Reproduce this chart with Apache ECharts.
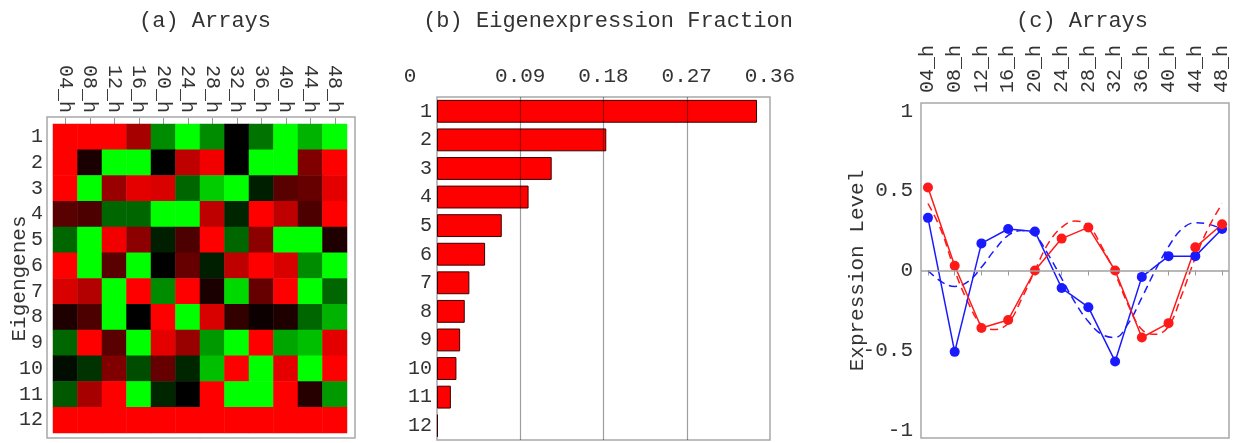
<!DOCTYPE html>
<html>
<head>
<meta charset="utf-8">
<script src="https://cdn.jsdelivr.net/npm/echarts@6/dist/echarts.min.js"></script>
<style>
  html, body { margin: 0; padding: 0; background: #ffffff; }
  #chart { width: 1238px; height: 443px; }
</style>
</head>
<body>
<div id="chart"></div>
<script>
// Sampling times (arrays) and eigengene indices
const arrays = ['04_h', '08_h', '12_h', '16_h', '20_h', '24_h', '28_h', '32_h', '36_h', '40_h', '44_h', '48_h'];
const eigengenes = ['1', '2', '3', '4', '5', '6', '7', '8', '9', '10', '11', '12'];

// Eigengene expression levels per array (+ red, - green)
const cellLevels = [
  [1, 1, 1, 0.65, -0.55, -1, -0.55, 0, -0.45, -1, -0.7, -1],
  [1, 0.1, -1, -1, 0, 0.75, 0.95, 0, -1, -1, 0.5, 1],
  [1, -1, 0.6, 0.9, 0.85, -0.4, -0.8, -1, -0.12, 0.35, 0.4, 0.9],
  [0.35, 0.3, -0.4, -0.4, -1, -1, 0.75, -0.15, 1, 0.75, 0.3, 1],
  [-0.4, -1, 0.95, 0.55, -0.12, 0.3, 1, -0.4, 0.55, -1, -1, 0.12],
  [1, -1, 0.35, -1, 0, 0.4, -0.12, 0.75, 1, 0.85, -0.55, -1],
  [0.85, 0.7, -1, 1, -0.55, 1, 0.1, -0.85, 0.4, 1, -1, -0.4],
  [0.12, 0.3, -1, 0, 1, -1, 0.85, 0.2, 0.05, 0.12, -0.4, -0.7],
  [-0.4, 1, 0.35, -1, 0.9, 0.6, -0.6, -1, 1, -0.65, -0.75, 0.9],
  [-0.05, -0.2, 0.5, -0.3, 0.4, -0.15, -0.75, 1, -1, 0.9, -1, 1],
  [-0.35, 0.65, 1, -1, -0.15, 0, 1, -1, -1, 1, 0.15, -0.6],
  [1, 1, 1, 1, 1, 1, 1, 1, 1, 1, 1, 1]
];

// Eigenexpression fraction of each eigengene
const fractions = [0.346, 0.183, 0.124, 0.099, 0.070, 0.052, 0.035, 0.030, 0.025, 0.021, 0.015, 0.001];
const fractionTicks = [0, 0.09, 0.18, 0.27, 0.36];

// Expression level of the first two eigengenes across arrays
const redLevel = [0.52, 0.03, -0.36, -0.31, 0.0, 0.20, 0.27, 0.0, -0.42, -0.33, 0.145, 0.29];
const blueLevel = [0.33, -0.51, 0.17, 0.26, 0.245, -0.11, -0.23, -0.57, -0.04, 0.09, 0.09, 0.26];

// Fitted curves, read at half-array steps
const fitSteps = [0, 0.5, 1, 1.5, 2, 2.5, 3, 3.5, 4, 4.5, 5, 5.5, 6, 6.5, 7, 7.5, 8, 8.5, 9, 9.5, 10, 10.5, 11];
const redFit = [0.42, 0.25, 0.0, -0.2, -0.34, -0.37, -0.33, -0.18, 0.0, 0.17, 0.27, 0.31, 0.28, 0.15, -0.02, -0.22, -0.37, -0.40, -0.35, -0.15, 0.08, 0.27, 0.42];
const blueFit = [0.0, -0.07, -0.1, -0.07, 0.02, 0.13, 0.22, 0.25, 0.22, 0.1, -0.05, -0.2, -0.32, -0.4, -0.42, -0.33, -0.17, 0.0, 0.15, 0.26, 0.3, 0.29, 0.26];
const levelTicks = [-1, -0.5, 0, 0.5, 1];

const FONT = "'Liberation Mono', 'DejaVu Sans Mono', monospace";
const TXT = '#333';
const FRAME = '#a8a8a8';

const heatData = [];
cellLevels.forEach((row, r) => row.forEach((v, c) => heatData.push([c, r, v])));

const chart = echarts.init(document.getElementById('chart'), null, { renderer: 'canvas' });

const titleStyle = { fontFamily: FONT, fontSize: 22, fontWeight: 'normal', color: TXT };

chart.setOption({
  animation: false,
  backgroundColor: '#ffffff',
  title: [
    { text: '(a) Arrays', left: 200, top: 5, textAlign: 'center', textStyle: titleStyle },
    { text: '(b) Eigenexpression Fraction', left: 603, top: 5, textAlign: 'center', textStyle: titleStyle },
    { text: '(c) Arrays', left: 1077, top: 5, textAlign: 'center', textStyle: titleStyle }
  ],
  grid: [
    { left: 53, top: 124, width: 294, height: 309, show: false, outerBoundsMode: 'none' },
    { left: 437, top: 97, width: 333, height: 343, show: true, borderColor: FRAME, borderWidth: 1.5, backgroundColor: 'transparent', outerBoundsMode: 'none' },
    { left: 921, top: 103, width: 308, height: 335, show: true, borderColor: FRAME, borderWidth: 1.5, backgroundColor: 'transparent', outerBoundsMode: 'none' },
    { left: 47, top: 117, width: 308, height: 321, show: true, borderColor: FRAME, borderWidth: 1.5, backgroundColor: 'transparent', outerBoundsMode: 'none' }
  ],
  visualMap: {
    show: false,
    type: 'continuous',
    seriesIndex: 0,
    min: -1,
    max: 1,
    inRange: { color: ['#00ff00', '#000000', '#ff0000'] }
  },
  xAxis: [
    {
      gridIndex: 0, type: 'category', data: arrays, position: 'top',
      axisLine: { show: false },
      axisTick: { show: true, interval: 0, alignWithLabel: true, length: 6, lineStyle: { color: '#999' } },
      axisLabel: { interval: 0, rotate: 90, margin: 11, fontFamily: FONT, fontSize: 20, color: TXT }
    },
    {
      gridIndex: 1, type: 'value', position: 'top', min: 0, max: 0.36, interval: 0.09,
      axisLine: { show: false }, axisTick: { show: false },
      splitLine: { show: false },
      axisLabel: {
        margin: 10, fontFamily: FONT, fontSize: 21, color: TXT,
        formatter: v => v === 0 ? '{z|0}' : v.toFixed(2),
        rich: { z: { fontFamily: FONT, fontSize: 21, color: TXT, padding: [0, 54, 0, 0] } }
      }
    },
    {
      gridIndex: 2, type: 'value', position: 'top', min: -0.26, max: 11.26,
      axisLine: { show: false },
      axisTick: { show: true, inside: true, length: 5, customValues: arrays.map((a, i) => i), lineStyle: { color: '#999' } },
      splitLine: { show: false },
      axisLabel: {
        rotate: 90, margin: 10, fontFamily: FONT, fontSize: 20, color: TXT,
        customValues: arrays.map((a, i) => i),
        formatter: v => arrays[Math.round(v)]
      }
    },
    { gridIndex: 3, type: 'value', show: false }
  ],
  yAxis: [
    {
      gridIndex: 0, type: 'category', data: eigengenes, inverse: true,
      axisLine: { show: false }, axisTick: { show: false },
      axisLabel: { interval: 0, margin: 10, fontFamily: FONT, fontSize: 20, color: TXT },
      name: 'Eigengenes', nameLocation: 'middle', nameGap: 23, nameRotate: 90,
      nameMoveOverlap: false,
      nameTextStyle: { fontFamily: FONT, fontSize: 21, color: TXT }
    },
    {
      gridIndex: 1, type: 'category', data: eigengenes, inverse: true,
      axisLine: { show: false }, axisTick: { show: false },
      axisLabel: { interval: 0, margin: 5, fontFamily: FONT, fontSize: 20, color: TXT }
    },
    {
      gridIndex: 2, type: 'value', min: -1.05, max: 1.05,
      axisLine: { show: false }, axisTick: { show: false }, splitLine: { show: false },
      axisLabel: {
        margin: 8, fontFamily: FONT, fontSize: 21, color: TXT,
        customValues: levelTicks,
        formatter: v => String(v)
      },
      name: 'Expression Level', nameLocation: 'middle', nameGap: 53, nameRotate: 90,
      nameMoveOverlap: false,
      nameTextStyle: { fontFamily: FONT, fontSize: 21, color: TXT }
    },
    { gridIndex: 3, type: 'value', show: false }
  ],
  series: [
    {
      type: 'heatmap', xAxisIndex: 0, yAxisIndex: 0,
      data: heatData,
      itemStyle: { borderWidth: 0 },
      emphasis: { disabled: true }
    },
    {
      type: 'bar', xAxisIndex: 1, yAxisIndex: 1,
      data: fractions,
      barCategoryGap: '20%',
      itemStyle: { color: '#ff0000', borderColor: '#3a0000', borderWidth: 1 },
      markLine: {
        silent: true, symbol: 'none', label: { show: false },
        lineStyle: { color: 'rgba(0,0,0,0.38)', width: 1.2, type: 'solid' },
        data: fractionTicks.slice(1, -1).map(t => ({ xAxis: t }))
      }
    },
    {
      type: 'line', xAxisIndex: 2, yAxisIndex: 2,
      data: fitSteps.map((x, i) => [x, blueFit[i]]),
      smooth: 0.4, showSymbol: false,
      lineStyle: { color: '#1a1aff', width: 1.5, type: [8, 5] },
      markLine: {
        silent: true, symbol: 'none', label: { show: false },
        lineStyle: { color: '#a0a0a0', width: 1.5, type: 'solid' },
        data: [{ yAxis: 0 }]
      }
    },
    {
      type: 'line', xAxisIndex: 2, yAxisIndex: 2,
      data: fitSteps.map((x, i) => [x, redFit[i]]),
      smooth: 0.4, showSymbol: false,
      lineStyle: { color: '#ff1a1a', width: 1.5, type: [8, 5] }
    },
    {
      type: 'line', xAxisIndex: 2, yAxisIndex: 2,
      data: blueLevel.map((v, i) => [i, v]),
      symbol: 'circle', symbolSize: 10,
      itemStyle: { color: '#1a1aff' },
      lineStyle: { color: '#1a1aff', width: 1.5 }
    },
    {
      type: 'line', xAxisIndex: 2, yAxisIndex: 2,
      data: redLevel.map((v, i) => [i, v]),
      symbol: 'circle', symbolSize: 10,
      itemStyle: { color: '#ff1a1a' },
      lineStyle: { color: '#ff1a1a', width: 1.5 }
    }
  ]
});
</script>
</body>
</html>
